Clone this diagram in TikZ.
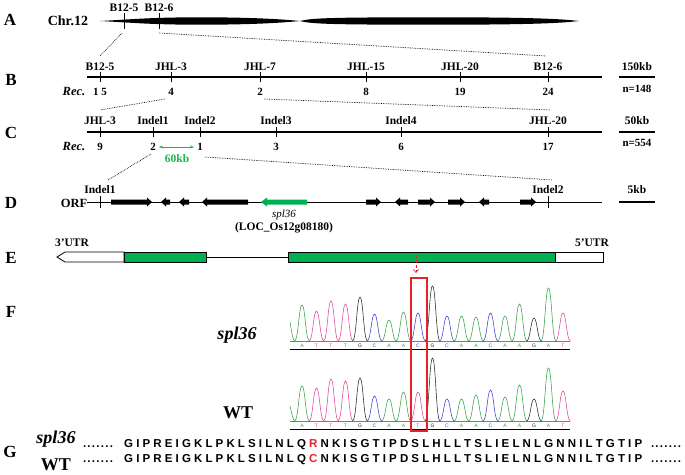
\documentclass[tikz,border=0pt]{standalone}
\usepackage{fontspec}
\setmainfont{Liberation Serif}
\newfontfamily\seqfont{Liberation Sans}
\usetikzlibrary{arrows.meta}
\usepackage{xcolor}
\definecolor{exon}{HTML}{00B050}
\definecolor{kbgreen}{HTML}{1DB34E}
\definecolor{mred}{HTML}{E8202A}
\definecolor{trA}{HTML}{35A045}
\definecolor{trT}{HTML}{E2409C}
\definecolor{trC}{HTML}{3C3CD2}
\definecolor{trG}{HTML}{262626}
\tikzset{
  panel/.style={font=\fontsize{17}{17}\selectfont\bfseries, inner sep=0pt},
  mlabel/.style={font=\fontsize{11.5}{12}\selectfont\bfseries, inner sep=0pt},
  rnum/.style={font=\fontsize{11}{12}\selectfont\bfseries, inner sep=0pt},
  reclab/.style={font=\fontsize{12.5}{13}\selectfont\bfseries\itshape, inner sep=0pt},
  bigname/.style={font=\fontsize{18}{18}\selectfont\bfseries, inner sep=0pt},
  mapline/.style={line width=2.6pt},
  thinmap/.style={line width=0.9pt},
  tickline/.style={line width=1pt},
  sbar/.style={line width=1.4pt},
  zoomline/.style={densely dotted, line width=0.7pt},
  kbarrow/.style={{Stealth[length=4pt]}-{Stealth[length=4pt]}, kbgreen, line width=1pt},
  mutarrow/.style={-{Straight Barb[length=3pt, width=5pt]}, mred, densely dashed, line width=0.7pt},
  utr/.style={draw, fill=white, line width=0.8pt},
  exonbox/.style={draw, fill=exon, line width=0.8pt},
  trace/.style={line width=0.55pt},
  basech/.style={font=\fontsize{5}{5}\selectfont\seqfont, inner sep=0pt},
  seqtext/.style={font=\fontsize{11.5}{12}\selectfont\seqfont\bfseries, inner sep=0pt},
}

\begin{document}
\begin{tikzpicture}[x=1pt, y=-1pt]
  \useasboundingbox (0,0) rectangle (685,474);

  %% --- A: chromosome 12 ---
  \node[panel] (pA) at (10,20) {A};
  \node[font=\fontsize{14}{14}\selectfont\bfseries, inner sep=0pt] (chr) at (68,21) {Chr.12};
  \fill (100,21) .. controls (130,19.5) and (150,17.3) .. (200,17.3)
    .. controls (255,17.3) and (285,19.5) .. (300,21)
    .. controls (285,22.5) and (255,24.7) .. (200,24.7)
    .. controls (150,24.7) and (130,22.5) .. (100,21) -- cycle;
  \fill (300,21) .. controls (312,18) and (330,17.3) .. (440,17.3)
    .. controls (545,17.3) and (565,19.5) .. (579,21)
    .. controls (565,22.5) and (545,24.7) .. (440,24.7)
    .. controls (330,24.7) and (312,24) .. (300,21) -- cycle;
  \foreach \x/\lab [count=\i] in {124/B12-5, 159/B12-6}{
    \draw[tickline] (\x,13) -- (\x,29);
    \node[mlabel] (am\i) at (\x,7.5) {\lab};
  }

  %% zoom A -> B
  \coordinate (aT1) at (122,33);
  \coordinate (aT2) at (159,33);
  \coordinate (bS)  at (100,56);
  \coordinate (bE)  at (546,56);
  \draw[zoomline] (aT1) -- (bS);
  \draw[zoomline] (aT2) -- (bE);

  %% --- B: fine map, n=148 ---
  \node[panel] (pB) at (11,80) {B};
  \draw[mapline] (87,77) -- (602,77);
  \foreach \x/\lab/\rv [count=\i] in {100/B12-5/1 5, 171/JHL-3/4, 260/JHL-7/2,
                                    366/JHL-15/8, 460/JHL-20/19, 548/B12-6/24}{
    \draw[tickline] (\x,72) -- (\x,82);
    \node[mlabel] (bm\i) at (\x,66.5) {\lab};
    \node[rnum]   (br\i) at (\x,91.5) {\rv};
  }
  \node[reclab] (bRec) at (74,91) {Rec.};
  \node[mlabel] (bKb) at (637,66.5) {150kb};
  \draw[sbar] (619,77) -- (655,77);
  \node[rnum] (bN) at (637,89) {n=148};

  %% zoom B -> C
  \coordinate (bT1) at (165,99);
  \coordinate (bT2) at (264,99);
  \coordinate (cS)  at (100,110);
  \coordinate (cE)  at (551,110);
  \draw[zoomline] (bT1) -- (cS);
  \draw[zoomline] (bT2) -- (cE);

  %% --- C: fine map, n=554 ---
  \node[panel] (pC) at (11,133) {C};
  \draw[mapline] (87,132) -- (602,132);
  \foreach \x/\lab/\rv [count=\i] in {100/JHL-3/9, 153/Indel1/2, 200/Indel2/1,
                                    276/Indel3/3, 401/Indel4/6, 548/JHL-20/17}{
    \draw[tickline] (\x,127) -- (\x,137);
    \node[mlabel] (cm\i) at (\x,120.5) {\lab};
    \node[rnum]   (cr\i) at (\x,147) {\rv};
  }
  \node[reclab] (cRec) at (74,146) {Rec.};
  \coordinate (k1) at (159,147);
  \coordinate (k2) at (194,147);
  \draw[kbarrow] (k1) -- (k2);
  \node[mlabel, text=kbgreen] (cSpan) at (177,159) {60kb};
  \node[mlabel] (cKb) at (637,120.5) {50kb};
  \draw[sbar] (619,132) -- (655,132);
  \node[rnum] (cN) at (637,143) {n=554};

  %% zoom C -> D
  \coordinate (cT1) at (151,154);
  \coordinate (cT2) at (205,157);
  \coordinate (dS)  at (108,180);
  \coordinate (dE)  at (552,180);
  \draw[zoomline] (cT1) -- (dS);
  \draw[zoomline] (cT2) -- (dE);

  %% --- D: ORFs ---
  \node[panel] (pD) at (11,203) {D};
  \node[font=\fontsize{12.5}{13}\selectfont\bfseries, inner sep=0pt] (orf) at (74,203) {ORF};
  \draw[thinmap] (87,202) -- (602,202);
  \foreach \x/\lab [count=\i] in {100/Indel1, 548/Indel2}{
    \draw[tickline] (\x,196) -- (\x,208);
    \node[mlabel] (dm\i) at (\x,190) {\lab};
  }
  \foreach \a/\b in {111/152, 366/381, 418/435, 448/465, 520/536}{
    \fill (\a,199.5) -- (\b-5,199.5) -- (\b-5,197.5) -- (\b,202)
      -- (\b-5,206.5) -- (\b-5,204.5) -- (\a,204.5) -- cycle;
  }
  \foreach \a/\b in {161/170, 179/189, 202/248, 395/408, 479/489}{
    \fill (\b,199.5) -- (\a+5,199.5) -- (\a+5,197.5) -- (\a,202)
      -- (\a+5,206.5) -- (\a+5,204.5) -- (\b,204.5) -- cycle;
  }
  \fill[exon] (307,199.5) -- (267,199.5) -- (267,197.5) -- (261,202)
    -- (267,206.5) -- (267,204.5) -- (307,204.5) -- cycle;
  \node[font=\fontsize{11}{12}\selectfont\itshape, inner sep=0pt] (gName) at (284,215) {spl36};
  \node[mlabel] (gLoc) at (284,228) {(LOC\_Os12g08180)};
  \node[mlabel] (dKb) at (637,190) {5kb};
  \draw[sbar] (619,202) -- (655,202);

  %% --- E: gene structure ---
  \node[panel] (pE) at (11,258) {E};
  \node[mlabel] (u3) at (72,243) {3'UTR};
  \node[mlabel] (u5) at (592,243) {5'UTR};
  \draw[utr] (65,252) -- (124,252) -- (124,262) -- (65,262) -- (57,257) -- cycle;
  \draw[exonbox] (124,252) rectangle (206,262);
  \draw[line width=0.8pt] (206,257) -- (288,257);
  \draw[exonbox] (288,252) rectangle (555,262);
  \draw[utr] (555,252) rectangle (603,262);
  \coordinate (mutTop) at (416,255);
  \coordinate (mutBot) at (416,273);
  \draw[mutarrow] (mutTop) -- (mutBot);

  %% --- F: sequencing traces ---
  \node[panel] (pF) at (11,312) {F};
  \node[bigname, font=\fontsize{18}{18}\selectfont\bfseries\itshape] (fM) at (237,335) {spl36};
  \node[bigname] (fW) at (238,413) {WT};

  %% mutant trace
  \draw[trace, draw=trA] (290,322) .. controls (292,334) and (293,341) .. (295,341);
  \draw[trT, line width=0.4pt] (290,341) -- (570,341);
  \foreach \c/\h [count=\i from 0] in {A/36, T/30, T/40, T/37, G/44, C/27, A/21, A/29, C/28, G/55,
                                       C/25, A/25, A/24, C/28, A/25, A/37, G/23, A/53, T/28}{
    \pgfmathsetmacro{\px}{302+14.5*\i}
    \draw[trace, draw=tr\c] (\px-7.5,341) .. controls (\px-3.6,341) and (\px-3.2,341-\h) .. (\px,341-\h)
      .. controls (\px+3.2,341-\h) and (\px+3.6,341) .. (\px+7.5,341);
    \node[basech, text=tr\c] (sp\i) at (\px,345.5) {\c};
  }
  \draw[line width=0.8pt] (290,349) -- (570,349);

  %% wild-type trace
  \draw[trace, draw=trA] (290,406) .. controls (292,414) and (293,421) .. (295,421);
  \draw[trT, line width=0.4pt] (290,421) -- (570,421);
  \foreach \c/\h [count=\i from 0] in {A/35, T/33, T/42, T/40, G/43, C/25, A/22, A/29, T/29, G/63,
                                       C/22, A/22, A/26, C/31, A/24, A/36, G/22, A/53, T/30}{
    \pgfmathsetmacro{\px}{302+14.5*\i}
    \draw[trace, draw=tr\c] (\px-7.5,421) .. controls (\px-3.6,421) and (\px-3.2,421-\h) .. (\px,421-\h)
      .. controls (\px+3.2,421-\h) and (\px+3.6,421) .. (\px+7.5,421);
    \node[basech, text=tr\c] (wt\i) at (\px,425.5) {\c};
  }
  \draw[line width=0.8pt] (290,429) -- (570,429);

  %% mutation site
  \draw[mred, line width=1.5pt] (411,278) rectangle (427,431);

  %% --- G: protein sequence ---
  \node[panel] (pG) at (10,452) {G};
  \node[bigname, font=\fontsize{18}{18}\selectfont\bfseries\itshape, anchor=base] (gM) at (56,443) {spl36};
  \node[bigname, anchor=base] (gW) at (56,470) {WT};
  \foreach \yb/\aa [count=\i] in {447/R, 462/C}{
    \node[seqtext, anchor=base] (gdl\i) at (98,\yb)
      {\makebox[30pt][s]{.\hfill.\hfill.\hfill.\hfill.\hfill.\hfill.}};
    \node[seqtext, anchor=base west] (gs\i) at (124,\yb)
      {\makebox[518pt][s]{G I P R E I G K L P K L S I L N L Q \textcolor{mred}{\aa} N K I S G T I P D S L H L L T S L I E L N L G N N I L T G T I P}};
    \node[seqtext, anchor=base] (gdr\i) at (666,\yb)
      {\makebox[30pt][s]{.\hfill.\hfill.\hfill.\hfill.\hfill.\hfill.}};
  }

\end{tikzpicture}
\end{document}
